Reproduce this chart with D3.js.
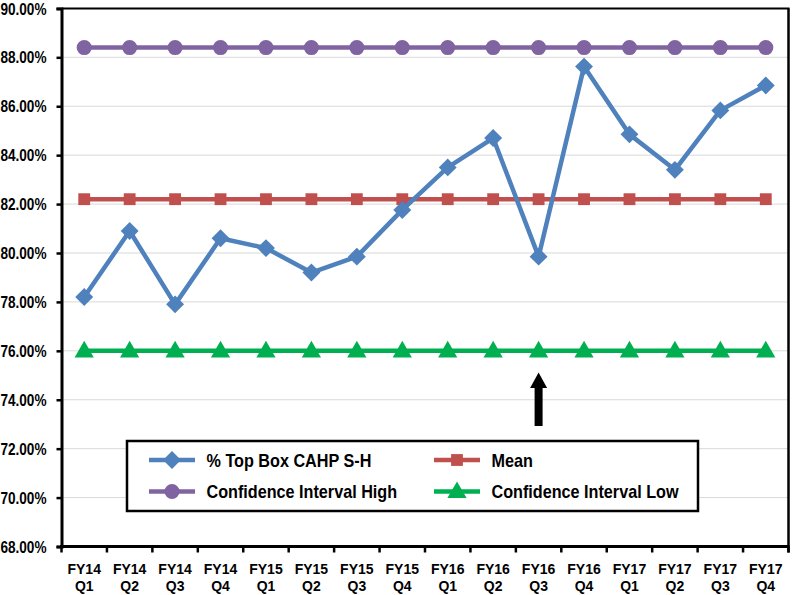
<!DOCTYPE html>
<html>
<head>
<meta charset="utf-8">
<script src="https://cdn.jsdelivr.net/npm/d3@7"></script>
<style>
  html, body { margin: 0; padding: 0; background: #fff; }
  svg { display: block; }
  text { font-family: "Liberation Sans", Arial, sans-serif; font-weight: bold; fill: #000; }
</style>
</head>
<body>
<svg id="chart" width="792" height="595"></svg>
<script>
const categories = ["FY14 Q1","FY14 Q2","FY14 Q3","FY14 Q4","FY15 Q1","FY15 Q2","FY15 Q3","FY15 Q4",
                    "FY16 Q1","FY16 Q2","FY16 Q3","FY16 Q4","FY17 Q1","FY17 Q2","FY17 Q3","FY17 Q4"];
const topBox = [78.2, 80.9, 77.9, 80.6, 80.2, 79.2, 79.85, 81.76, 83.5, 84.7, 79.85, 87.62, 84.85, 83.4, 85.83, 86.85];
const meanVals = [82.2,82.2,82.2,82.2,82.2,82.2,82.2,82.2,82.2,82.2,82.2,82.2,82.2,82.2,82.2,82.2];
const ciHigh = [88.4,88.4,88.4,88.4,88.4,88.4,88.4,88.4,88.4,88.4,88.4,88.4,88.4,88.4,88.4,88.4];
const ciLow = [76.0,76.0,76.0,76.0,76.0,76.0,76.0,76.0,76.0,76.0,76.0,76.0,76.0,76.0,76.0,76.0];
const yTicks = [68,70,72,74,76,78,80,82,84,86,88,90];
const arrowCategory = "FY16 Q3";

const svg = d3.select("#chart");
const L = 61.5, R = 788.5, T = 8.4, B = 546.5;

const x = d3.scaleBand().domain(categories).range([L, R]);
const y = d3.scaleLinear().domain([68, 90]).range([B, T]);
const cx = d => x(d) + x.bandwidth() / 2;

// gridlines
svg.append("g").selectAll("line").data(yTicks.filter(t => t > 68 && t < 90)).join("line")
  .attr("x1", L).attr("x2", R).attr("y1", d => y(d)).attr("y2", d => y(d))
  .attr("stroke", "#d9d9d9").attr("stroke-width", 1);

// frame top & right
svg.append("line").attr("x1", L).attr("x2", R + 1).attr("y1", T).attr("y2", T)
  .attr("stroke", "#000").attr("stroke-width", 2);
svg.append("line").attr("x1", R).attr("x2", R).attr("y1", T).attr("y2", B + 6)
  .attr("stroke", "#000").attr("stroke-width", 2.5);

// y axis
const yAxis = d3.axisLeft(y).tickValues(yTicks).tickFormat(d => d.toFixed(2) + "%").tickSize(5).tickPadding(0);
const gy = svg.append("g").attr("transform", `translate(${L},0)`).call(yAxis);
gy.select(".domain").attr("stroke", "#000").attr("stroke-width", 3);
gy.selectAll(".tick line").attr("stroke", "#000").attr("stroke-width", 2.5);
gy.selectAll(".tick text").attr("x", null).attr("dy", null)
  .style("font-size", "13.6px").style("font-family", "'Liberation Sans', Arial, sans-serif")
  .style("font-weight", "bold").attr("fill", "#000")
  .attr("transform", "translate(-15,5.6) scale(1,1.2)");

// x axis
const boundaries = categories.map(c => x(c)).concat([R]);
const gx = svg.append("g");
gx.append("line").attr("x1", L - 1.5).attr("x2", R + 1).attr("y1", B).attr("y2", B)
  .attr("stroke", "#000").attr("stroke-width", 3);
gx.selectAll("line.tk").data(boundaries).join("line").attr("class", "tk")
  .attr("x1", d => d).attr("x2", d => d).attr("y1", B).attr("y2", B + 6)
  .attr("stroke", "#000").attr("stroke-width", 2.5);
const xl = gx.selectAll("text.xl").data(categories).join("text").attr("class", "xl")
  .attr("text-anchor", "middle").style("font-size", "14px")
  .attr("transform", d => `translate(${cx(d)},574)`);
xl.append("tspan").attr("x", 0).attr("y", 0).text(d => d.split(" ")[0]);
xl.append("tspan").attr("x", 0).attr("y", 16.8).text(d => d.split(" ")[1]);

// series
const series = [
  {name: "% Top Box CAHP S-H", values: topBox, color: "#4f81bd", marker: "diamond"},
  {name: "Mean", values: meanVals, color: "#c0504d", marker: "square"},
  {name: "Confidence Interval High", values: ciHigh, color: "#8064a2", marker: "circle"},
  {name: "Confidence Interval Low", values: ciLow, color: "#00b050", marker: "triangle"}
];
const symbolFor = m => {
  if (m === "diamond") return d3.symbol().type(d3.symbolSquare).size(160)();
  if (m === "square") return d3.symbol().type(d3.symbolSquare).size(140)();
  if (m === "circle") return d3.symbol().type(d3.symbolCircle).size(180)();
  return d3.symbol().type(d3.symbolTriangle).size(160)();
};
const rot = m => m === "diamond" ? 45 : 0;

const line = d3.line().x((d, i) => cx(categories[i])).y(d => y(d));
const drawOrder = [2, 3, 1, 0];
drawOrder.forEach(si => {
  const s = series[si];
  const g = svg.append("g");
  g.append("path").attr("d", line(s.values)).attr("fill", "none")
    .attr("stroke", s.color).attr("stroke-width", 4.5).attr("stroke-linejoin", "round");
  g.selectAll("path.m").data(s.values).join("path").attr("class", "m")
    .attr("d", symbolFor(s.marker)).attr("fill", s.color)
    .attr("transform", (d, i) => `translate(${cx(categories[i])},${y(d) + (s.marker === "triangle" ? 1 : 0)}) rotate(${rot(s.marker)})`);
});

// arrow
const ax = cx(arrowCategory);
svg.append("path")
  .attr("d", `M${ax},${372.5} L${ax + 8.5},${388} L${ax + 4},${388} L${ax + 4},${426} L${ax - 4},${426} L${ax - 4},${388} L${ax - 8.5},${388} Z`)
  .attr("fill", "#000");

// legend
const lg = svg.append("g");
lg.append("rect").attr("x", 127).attr("y", 441).attr("width", 571).attr("height", 70)
  .attr("fill", "#fff").attr("stroke", "#000").attr("stroke-width", 2.5);
const legendPos = [
  {s: 0, x: 149, y: 460}, {s: 1, x: 434, y: 460},
  {s: 2, x: 149, y: 491.5}, {s: 3, x: 434, y: 491.5}
];
legendPos.forEach(p => {
  const s = series[p.s];
  lg.append("line").attr("x1", p.x).attr("x2", p.x + 46).attr("y1", p.y).attr("y2", p.y)
    .attr("stroke", s.color).attr("stroke-width", 4.5);
  lg.append("path").attr("d", symbolFor(s.marker)).attr("fill", s.color)
    .attr("transform", `translate(${p.x + 23},${p.y + (s.marker === "triangle" ? 1 : 0)}) rotate(${rot(s.marker)})`);
  lg.append("text").style("font-size", "16.2px")
    .attr("transform", `translate(${p.x + 57.5},${p.y + 6.8}) scale(1,1.15)`)
    .text(s.name);
});
</script>
</body>
</html>
